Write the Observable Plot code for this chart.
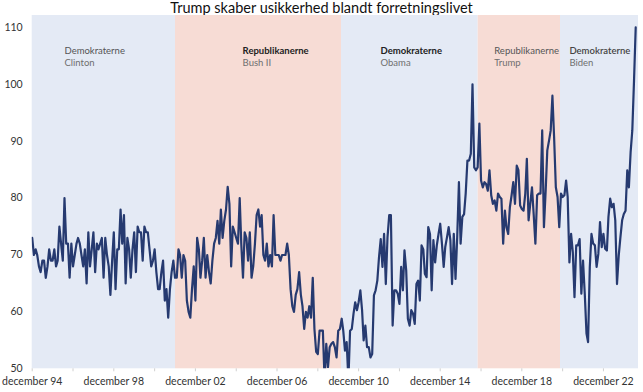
<!DOCTYPE html>
<html><head><meta charset="utf-8">
<script src="https://cdn.jsdelivr.net/npm/d3@7"></script>
<script src="https://cdn.jsdelivr.net/npm/@observablehq/plot@0.6"></script>
<style>
html,body{margin:0;padding:0;background:#fff;}
body{font-family:Lato,"Open Sans",sans-serif;width:643px;}
#title{height:15px;line-height:15px;font-size:14.5px;text-align:center;color:#111;white-space:nowrap;}
#chart svg{display:block;}
</style></head><body>
<div id="title">Trump skaber usikkerhed blandt forretningslivet</div>
<div id="chart"></div>
<script>
// Monthly index values, first month = December 1994
const firstMonth = "1994-12-01";
const values = [
73,70,71,70,68,67,69,69,66,68,71,69,69,71,68,69,75,72,69,80,72,72,66,72,68,70,72,73,72,70,
68,71,65,74,68,71,74,67,72,71,72,73,66,73,70,68,63,69,74,64,71,71,78,72,77,65,73,71,66,71,
74,67,75,74,74,69,75,74,74,71,68,69,71,67,64,64,67,69,62,64,59,64,67,69,66,66,71,70,66,70,
69,62,60,59,64,68,62,73,71,66,69,73,66,70,67,65,69,72,73,76,72,78,73,76,78,82,79,68,75,74,
73,72,80,72,66,74,73,69,74,66,68,72,77,78,75,77,70,69,72,68,70,68,77,70,70,70,69,70,70,70,
72,70,64,61,60,63,64,67,63,61,57,60,59,61,59,66,57,53,
52.6,56.7,56.7,56.7,48,54.4,50.3,53.8,54.4,54.7,53.8,52,56.7,57,58.8,56.7,53.2,54.7,48,
56.7,57,59.7,61.7,60.3,61.7,63.8,60.3,55,57.6,53.8,53.8,52,52.6,62.9,63.8,65.5,69.6,72.8,67.9,73.7,
64.9,73.1,77,77,57.6,63.8,63.8,63.2,61.4,67.9,63.8,70.8,67.3,58.8,57.6,60.3,59.7,57.9,64.9,65.5,
62,71.7,71,66.7,66.1,74.9,73.7,63.8,72.6,68.7,71.7,73.7,75.5,72,67.9,71.4,73.1,74.9,72.6,64.9,
73.7,65.8,73.1,82.8,72,76.7,77.2,80.8,86.6,86.6,87.8,100,85.4,84.9,85.4,93.1,83.1,81.9,82.8,82.5,
81.3,84.9,80.5,79,79.6,77.8,80.8,80.2,79.9,72,77.8,74.9,73.7,78.4,80.5,82.8,79,85.7,84.9,78.7,
78.1,77.8,80.8,86.9,76.1,79,81.9,77.2,72,80.5,80.8,80.8,91.9,74.9,81.3,88.4,90.1,91.9,98,90.7,
81.9,80.2,74.9,80.8,80.2,80.5,83.1,80.2,68.7,73.7,70.5,62.6,71.7,71.7,72.8,63.2,69,63.2,56.2,54.7,
67.9,73.7,72,71.7,67.9,70.2,75.8,71.4,73.7,71.1,70.8,76.7,79.9,78.4,79,76.1,64.9,69.9,73.1,76.1,
77.2,77.8,84.9,81.9,88.1,91.9,100.7,110
];

const parties    = ["Demokraterne", "Republikanerne", "Demokraterne", "Republikanerne", "Demokraterne"];
const presidents = ["Clinton", "Bush II", "Obama", "Trump", "Biden"];
const bandStarts = ["1994-12-01", "2001-12-10", "2010-01-29", "2016-10-11", "2020-10-24"];
const axisEnd    = "2024-08-20";
const labelDates = ["1996-07-01", "2005-03-25", "2011-12-28", "2017-07-25", "2021-04-01"];
const yTicks = [50, 60, 70, 80, 90, 100, 110];
const yDomain = [50, 112.1];
const labelYears = [1994, 1998, 2002, 2006, 2010, 2014, 2018, 2022];
const minorYears = [1994, 1996, 1998, 2000, 2002, 2004, 2006, 2008, 2010, 2012, 2014, 2016, 2018, 2020, 2022];

const parse = d3.utcParse("%Y-%m-%d");
const t0 = parse(firstMonth);
const series = values.map((v, i) => ({date: d3.utcMonth.offset(t0, i), value: v}));
const bands = presidents.map((p, i) => ({
  party: parties[i],
  president: p,
  start: parse(bandStarts[i]),
  end: parse(i < presidents.length - 1 ? bandStarts[i + 1] : axisEnd),
  label: parse(labelDates[i])
}));
const decOf = y => new Date(Date.UTC(y, 11, 1));

const partyStyle = [
  {w: 400, c: "#555"}, {w: 700, c: "#222"}, {w: 700, c: "#222"}, {w: 400, c: "#555"}, {w: 600, c: "#444"}
];
const bandFill = {"Demokraterne": "#e4eaf5", "Republikanerne": "#f7dcd5"};

const labelMarks = bands.flatMap((b, i) => [
  Plot.text([b], {x: "label", frameAnchor: "top", dy: 32, text: "party", textAnchor: "start",
    fontSize: 9.5, fontWeight: partyStyle[i].w, fill: partyStyle[i].c}),
  Plot.text([b], {x: "label", frameAnchor: "top", dy: 43.5, text: "president", textAnchor: "start",
    fontSize: 9.5, fill: "#6f6f6f"})
]);

const chart = Plot.plot({
  width: 643,
  height: 377,
  marginTop: 0,
  marginRight: 5,
  marginBottom: 23.7,
  marginLeft: 31.7,
  style: {fontFamily: "Lato, 'Open Sans', sans-serif", background: "white", overflow: "visible"},
  x: {type: "utc", domain: [t0, parse(axisEnd)], label: null},
  y: {domain: yDomain, label: null},
  marks: [
    Plot.rect(bands, {x1: "start", x2: "end", y1: yDomain[0], y2: yDomain[1], fill: d => bandFill[d.party]}),
    Plot.axisX({ticks: minorYears.map(decOf), tickSize: 3, stroke: "#d0d0d0", tickFormat: () => "", label: null}),
    Plot.axisX({ticks: labelYears.map(decOf), tickSize: 0, tickPadding: 9, label: null,
      tickFormat: d => "december " + d3.utcFormat("%y")(d), fontSize: 10.5, fill: "#333"}),
    Plot.axisY({ticks: yTicks, tickSize: 0, tickPadding: 9.5, fontSize: 10.5, fill: "#333", label: null}),
    Plot.line(series, {x: "date", y: "value", stroke: "#263a70", strokeWidth: 2.2, clip: true}),
    ...labelMarks
  ]
});
document.getElementById("chart").appendChild(chart);
</script>
</body></html>
